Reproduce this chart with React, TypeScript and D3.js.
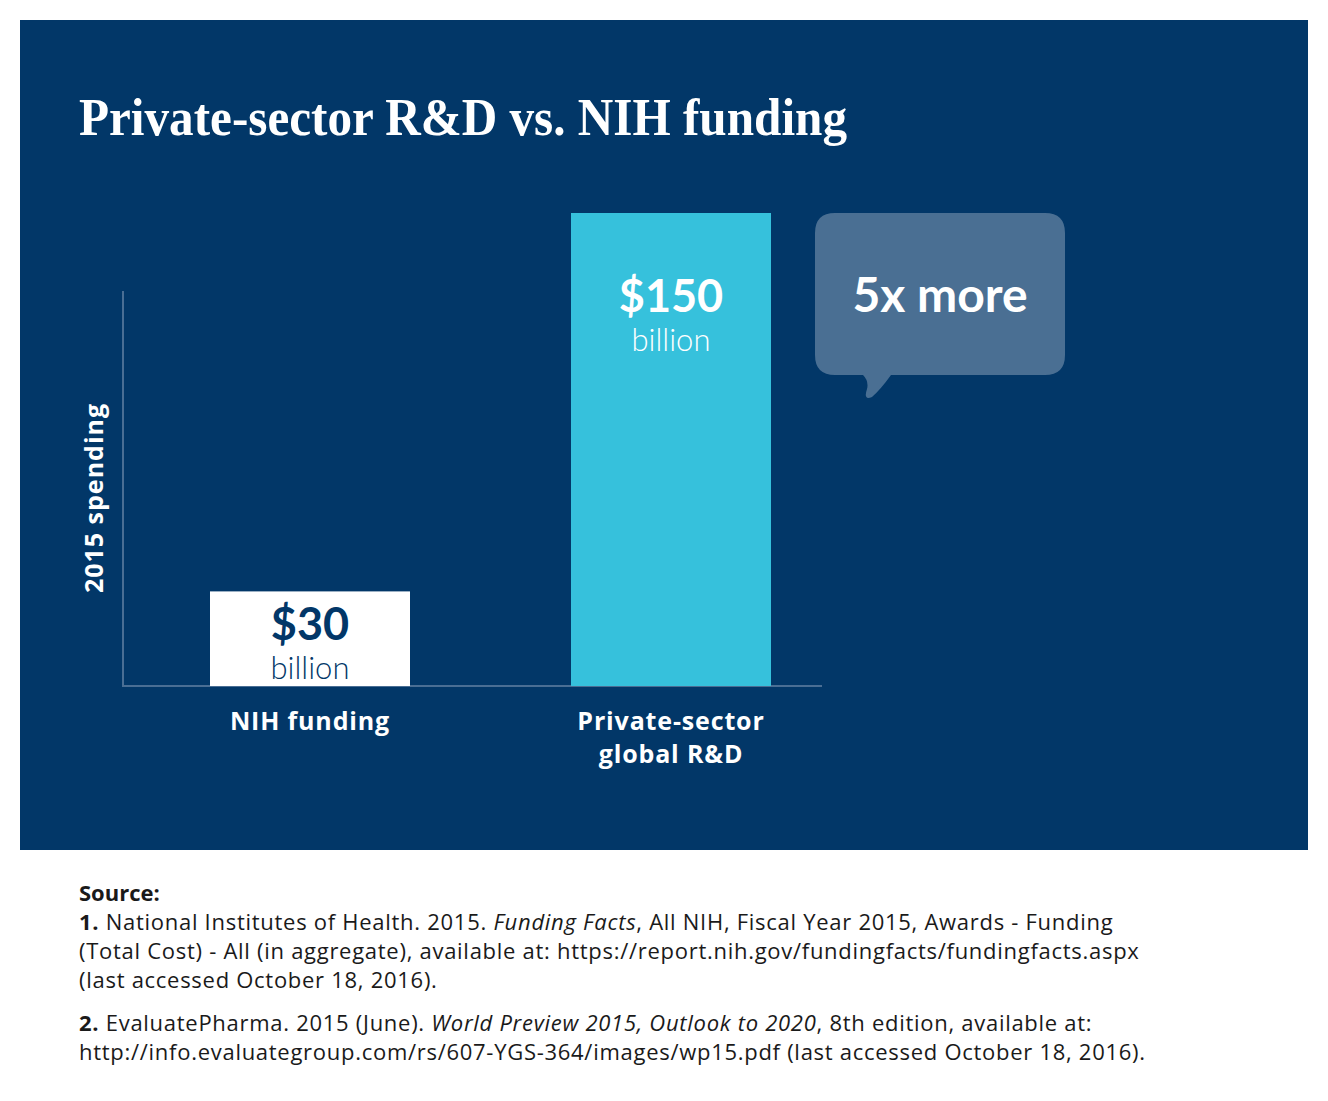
import React from 'react';
import * as d3 from 'd3';

const categories = ['NIH funding', 'Private-sector global R&D'];
const categoryLines = [['NIH funding'], ['Private-sector', 'global R&D']];
const values = [30, 150];
const valueLabels = ['$30', '$150'];
const unitLabel = 'billion';
const calloutText = '5x more';
const yTitle = '2015 spending';
const title = 'Private-sector R&D vs. NIH funding';

const sourceLines: { parts: { t: string; b?: boolean; i?: boolean }[] }[] = [
  { parts: [{ t: '1.', b: true }, { t: ' National Institutes of Health. 2015. ' }, { t: 'Funding Facts', i: true }, { t: ', All NIH, Fiscal Year 2015, Awards - Funding' }] },
  { parts: [{ t: '(Total Cost) - All (in aggregate), available at: https://report.nih.gov/fundingfacts/fundingfacts.aspx' }] },
  { parts: [{ t: '(last accessed October 18, 2016).' }] },
  { parts: [{ t: '2.', b: true }, { t: ' EvaluatePharma. 2015 (June). ' }, { t: 'World Preview 2015, Outlook to 2020', i: true }, { t: ', 8th edition, available at:' }] },
  { parts: [{ t: 'http://info.evaluategroup.com/rs/607-YGS-364/images/wp15.pdf (last accessed October 18, 2016).' }] },
];

const W = 1328;
const H = 1101;
const NAVY = '#023768';
const CYAN = '#36c1dc';
const AXIS = '#4a6e94';
const BUBBLE = '#4a6f93';
const LATO = 'Lato, "Open Sans", sans-serif';
const OPEN = '"Open Sans", Lato, sans-serif';

export default function App() {
  const baseY = 686;
  const y = d3.scaleLinear().domain([0, 150]).range([baseY, 213]);
  const x = d3
    .scaleBand<string>()
    .domain(categories)
    .range([123, 858])
    .paddingInner(0.446)
    .paddingOuter(0.241);

  // speech bubble
  const bx = 815, by = 213, bw = 250, bh = 162, r = 20;
  const bubblePath = `M${bx + r},${by} H${bx + bw - r} Q${bx + bw},${by} ${bx + bw},${by + r}
    V${by + bh - r} Q${bx + bw},${by + bh} ${bx + bw - r},${by + bh}
    H${bx + 76} Q${bx + 66},${by + bh + 14} ${bx + 57},${by + bh + 22}
    Q${bx + 48},${by + bh + 26} ${bx + 52},${by + bh + 14}
    Q${bx + 54},${by + bh + 6} ${bx + 48},${by + bh}
    H${bx + r} Q${bx},${by + bh} ${bx},${by + bh - r} V${by + r} Q${bx},${by} ${bx + r},${by} Z`;
  const calloutBaseline = 312;

  return (
    <svg
      width={W}
      height={H}
      style={{ position: 'absolute', left: 0, top: 0, display: 'block', background: '#fff' }}
    >
      <rect x={20} y={20} width={1288} height={830} fill={NAVY} />
      <text
        x={79}
        y={135}
        fill="#fff"
        fontFamily='"Liberation Serif", "Times New Roman", serif'
        fontWeight="bold"
        fontSize={52}
        textLength={768}
        lengthAdjust="spacingAndGlyphs"
      >
        {title}
      </text>

      {/* axes */}
      <line x1={123} x2={123} y1={291} y2={baseY} stroke={AXIS} strokeWidth={2} />
      <line x1={122} x2={822} y1={baseY} y2={baseY} stroke={AXIS} strokeWidth={2} />

      <text
        transform={`translate(103,498) rotate(-90)`}
        textAnchor="middle"
        fill="#fff"
        fontFamily={OPEN}
        fontWeight="bold"
        fontSize={25}
        letterSpacing={1}
      >
        {yTitle}
      </text>

      {categories.map((c, i) => {
        const bx0 = x(c)!;
        const cx = bx0 + x.bandwidth() / 2;
        const top = y(values[i]);
        const isFirst = i === 0;
        const textCol = isFirst ? NAVY : '#fff';
        // short bar: label near its top; tall bar: label level with the callout
        const labelY = isFirst ? top + 49 : calloutBaseline;
        return (
          <g key={c}>
            <rect x={bx0} y={top} width={x.bandwidth()} height={baseY - top} fill={isFirst ? '#fff' : CYAN} />
            <text x={cx} y={labelY} textAnchor="middle" fill={textCol} fontFamily={LATO} fontWeight="bold" fontSize={45}>
              {valueLabels[i]}
            </text>
            <text x={cx} y={labelY + 39} textAnchor="middle" fill={textCol} fontFamily={LATO} fontWeight={300} fontSize={31}>
              {unitLabel}
            </text>
            {categoryLines[i].map((ln, j) => (
              <text
                key={j}
                x={cx}
                y={730 + j * 33}
                textAnchor="middle"
                fill="#fff"
                fontFamily={OPEN}
                fontWeight="bold"
                fontSize={25}
                letterSpacing={0.85}
              >
                {ln}
              </text>
            ))}
          </g>
        );
      })}

      <path d={bubblePath} fill={BUBBLE} />
      <text x={bx + bw / 2} y={calloutBaseline} textAnchor="middle" fill="#fff" fontFamily={LATO} fontWeight="bold" fontSize={48}>
        {calloutText}
      </text>

      {/* source */}
      <text x={79} y={901} fill="#1a1a1a" fontFamily={OPEN} fontWeight="bold" fontSize={22}>
        Source:
      </text>
      {sourceLines.map((l, i) => {
        const yy = 930 + i * 29 + (i >= 3 ? 14 : 0);
        return (
          <text key={i} x={79} y={yy} fill="#1a1a1a" fontFamily={OPEN} fontSize={22} letterSpacing={0.72}>
            {l.parts.map((p, k) => (
              <tspan key={k} fontWeight={p.b ? 'bold' : 'normal'} fontStyle={p.i ? 'italic' : 'normal'}>
                {p.t}
              </tspan>
            ))}
          </text>
        );
      })}
    </svg>
  );
}
